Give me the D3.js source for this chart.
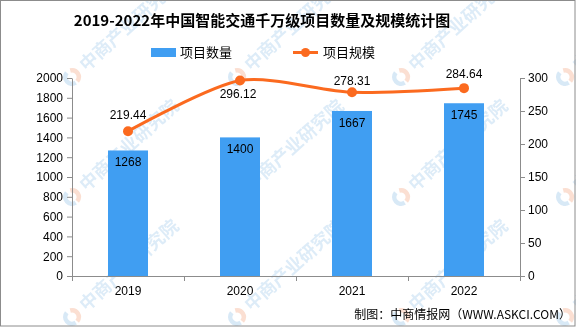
<!DOCTYPE html>
<html>
<head>
<meta charset="utf-8">
<script src="https://cdn.jsdelivr.net/npm/d3@7/dist/d3.min.js"></script>
<style>
  html, body { margin: 0; padding: 0; background: #fff; }
  svg { display: block; }
</style>
</head>
<body>
<svg id="chart" width="576" height="327"></svg>
<script>
// Data
const years = ["2019", "2020", "2021", "2022"];
const projectCounts = [1268, 1400, 1667, 1745];
const projectScale = [219.44, 296.12, 278.31, 284.64];
const leftTicks = [0, 200, 400, 600, 800, 1000, 1200, 1400, 1600, 1800, 2000];
const rightTicks = [0, 50, 100, 150, 200, 250, 300];

const title = "2019-2022年中国智能交通千万级项目数量及规模统计图";
const legendNames = ["项目数量", "项目规模"];
const sourceText = "制图：中商情报网（WWW.ASKCI.COM）";

const W = 576, H = 327;
const margin = { left: 72, right: 56, top: 78, bottom: 51 };
const innerW = W - margin.left - margin.right;
const innerH = H - margin.top - margin.bottom;

const BAR_COLOR = "#409ef2";
const LINE_COLOR = "#fb6a1f";
const AXIS_COLOR = "#8c8c8c";
const NUM_FONT = "'Liberation Sans', Arial, sans-serif";
const CJK_FONT = "'Noto Sans CJK SC', sans-serif";

const svg = d3.select("#chart");

// Faint tiled watermark, clipped to the canvas
svg.append("defs").append("clipPath").attr("id", "canvas-clip")
  .append("rect").attr("x", 0).attr("y", 0).attr("width", W).attr("height", H);
const wm = svg.append("g").attr("opacity", 0.35).attr("clip-path", "url(#canvas-clip)");
const wmX = [72, 237, 401, 565];
const wmY = [77, 197, 317];
wmY.forEach(y => wmX.forEach(x => {
  const g = wm.append("g").attr("transform", `translate(${x},${y}) rotate(-42)`);
  const r = 9;
  const arc = d3.arc().innerRadius(r - 4.5).outerRadius(r);
  g.append("path").attr("d", arc({ startAngle: Math.PI * 0.15, endAngle: Math.PI * 0.95 }))
    .attr("fill", "#f3a47e");
  g.append("path").attr("d", arc({ startAngle: Math.PI * 1.05, endAngle: Math.PI * 1.95 }))
    .attr("fill", "#8fbfe6");
  g.append("text").attr("x", 14).attr("y", 6)
    .attr("font-family", CJK_FONT).attr("font-size", 18).attr("font-weight", "bold")
    .attr("fill", "#9fc8ea")
    .text("中商产业研究院");
}));

// Scales
const x = d3.scaleBand().domain(years).range([margin.left, margin.left + innerW]).padding(0);
const yL = d3.scaleLinear().domain([0, 2000]).range([margin.top + innerH, margin.top]);
const yR = d3.scaleLinear().domain([0, 300]).range([margin.top + innerH, margin.top]);
const barW = 40;

// Bars
svg.append("g").selectAll("rect").data(projectCounts).join("rect")
  .attr("x", (d, i) => x(years[i]) + x.bandwidth() / 2 - barW / 2)
  .attr("y", d => yL(d))
  .attr("width", barW)
  .attr("height", d => yL(0) - yL(d))
  .attr("fill", BAR_COLOR);

// Bar value labels
svg.append("g").selectAll("text").data(projectCounts).join("text")
  .attr("x", (d, i) => x(years[i]) + x.bandwidth() / 2)
  .attr("y", d => yL(d) + 16)
  .attr("text-anchor", "middle")
  .attr("font-family", NUM_FONT).attr("font-size", 12).attr("fill", "#000")
  .text(d => d);

// Axes
function styleAxis(g) {
  g.selectAll("path.domain").attr("stroke", AXIS_COLOR);
  g.selectAll(".tick line").attr("stroke", AXIS_COLOR);
  g.selectAll(".tick text").attr("font-family", NUM_FONT).attr("font-size", 12).attr("fill", "#000");
}

const axL = svg.append("g").attr("transform", `translate(${margin.left},0)`)
  .call(d3.axisLeft(yL).tickValues(leftTicks).tickSize(5).tickSizeOuter(0).tickPadding(4).tickFormat(d3.format("d")));
styleAxis(axL);

const axR = svg.append("g").attr("transform", `translate(${margin.left + innerW},0)`)
  .call(d3.axisRight(yR).tickValues(rightTicks).tickSize(5).tickSizeOuter(0).tickPadding(3).tickFormat(d3.format("d")));
styleAxis(axR);

// X axis: ticks at category boundaries
const xAxisY = margin.top + innerH;
const xg = svg.append("g");
xg.append("line")
  .attr("x1", margin.left).attr("x2", margin.left + innerW)
  .attr("y1", xAxisY + 0.5).attr("y2", xAxisY + 0.5)
  .attr("stroke", AXIS_COLOR);
const boundaries = years.map(y => x(y)).concat([x(years[years.length - 1]) + x.bandwidth()]);
xg.selectAll("line.b").data(boundaries).join("line").attr("class", "b")
  .attr("x1", d => Math.round(d) + 0.5).attr("x2", d => Math.round(d) + 0.5)
  .attr("y1", xAxisY).attr("y2", xAxisY + 5)
  .attr("stroke", AXIS_COLOR);
xg.selectAll("text").data(years).join("text")
  .attr("x", d => x(d) + x.bandwidth() / 2)
  .attr("y", xAxisY + 19)
  .attr("text-anchor", "middle")
  .attr("font-family", NUM_FONT).attr("font-size", 12).attr("fill", "#000")
  .text(d => d);

// Line series
const pts = projectScale.map((v, i) => [x(years[i]) + x.bandwidth() / 2, yR(v)]);
svg.append("path")
  .attr("d", d3.line().curve(d3.curveCardinal.tension(0.2))(pts))
  .attr("fill", "none").attr("stroke", LINE_COLOR).attr("stroke-width", 3);
svg.append("g").selectAll("circle").data(pts).join("circle")
  .attr("cx", d => d[0]).attr("cy", d => d[1]).attr("r", 5)
  .attr("fill", LINE_COLOR);

// Line value labels (above, except the 2020 point which sits below the curve peak)
const labelDy = [-12, 17, -7, -10];
svg.append("g").selectAll("text").data(projectScale).join("text")
  .attr("x", (d, i) => pts[i][0] - (i === 1 ? 2 : 0))
  .attr("y", (d, i) => pts[i][1] + labelDy[i])
  .attr("text-anchor", "middle")
  .attr("font-family", NUM_FONT).attr("font-size", 12).attr("fill", "#000")
  .text(d => d.toFixed(2));

// Title
svg.append("text")
  .attr("x", 262).attr("y", 26)
  .attr("text-anchor", "middle")
  .attr("font-family", CJK_FONT).attr("font-size", 15).attr("font-weight", "bold").attr("fill", "#000")
  .text(title);

// Legend
const lg = svg.append("g");
lg.append("rect").attr("x", 151).attr("y", 48).attr("width", 25).attr("height", 9).attr("fill", BAR_COLOR);
lg.append("text").attr("x", 180).attr("y", 57)
  .attr("font-family", CJK_FONT).attr("font-size", 13).attr("fill", "#000").text(legendNames[0]);
lg.append("line").attr("x1", 293).attr("x2", 318).attr("y1", 52.5).attr("y2", 52.5)
  .attr("stroke", LINE_COLOR).attr("stroke-width", 3);
lg.append("circle").attr("cx", 305.5).attr("cy", 52.5).attr("r", 4.5).attr("fill", LINE_COLOR);
lg.append("text").attr("x", 323).attr("y", 57)
  .attr("font-family", CJK_FONT).attr("font-size", 13).attr("fill", "#000").text(legendNames[1]);

// Source
svg.append("text")
  .attr("x", 571).attr("y", 319)
  .attr("text-anchor", "end")
  .attr("font-family", CJK_FONT).attr("font-size", 12).attr("fill", "#000")
  .text(sourceText);

// Frame
svg.append("rect").attr("x", 0.5).attr("y", 0.5).attr("width", W - 1.5).attr("height", H - 1.5)
  .attr("fill", "none").attr("stroke", "#8c8c8c");
</script>
</body>
</html>
